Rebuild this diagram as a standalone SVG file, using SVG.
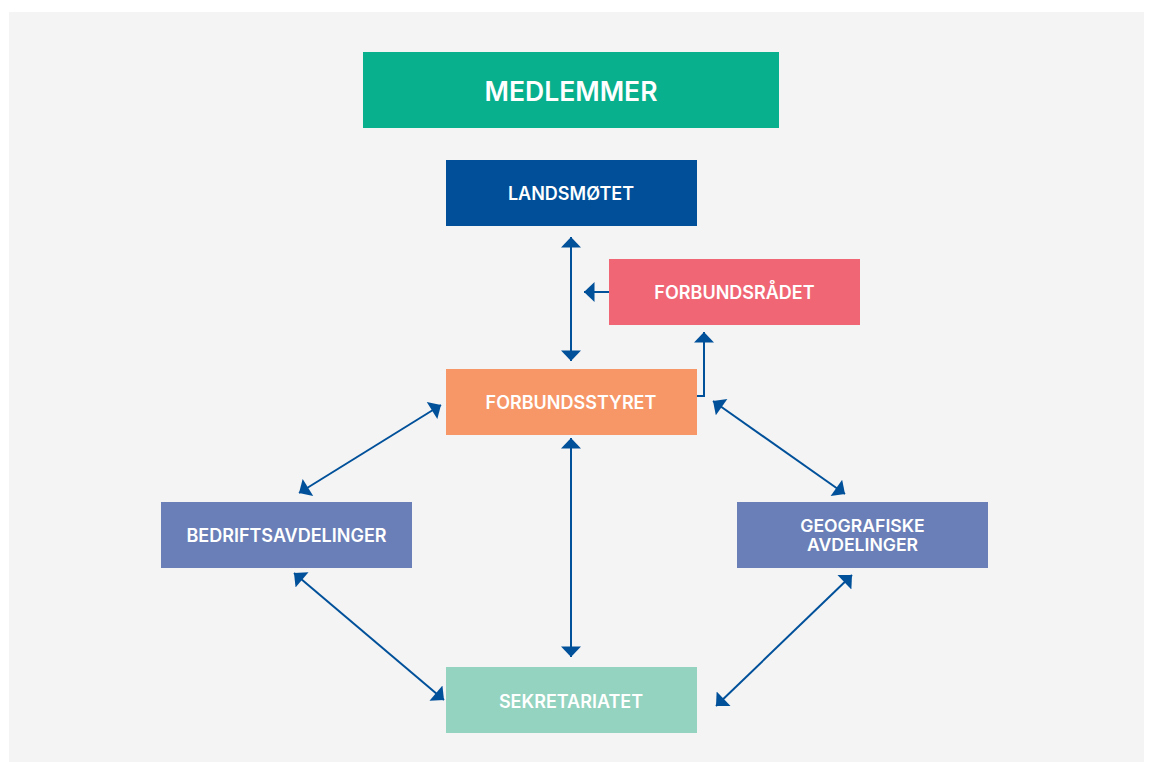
<svg xmlns="http://www.w3.org/2000/svg" width="1149" height="762" viewBox="0 0 1149 762">
<defs>
<marker id="ah" markerUnits="userSpaceOnUse" markerWidth="12" markerHeight="20" viewBox="0 0 10 19" refX="10" refY="9.5" orient="auto-start-reverse">
<path d="M0,0 L10,9.5 L0,19 z" fill="#00509a"/>
</marker>
<style>
.bg{fill:#ffffff}
.panel{fill:#f4f4f4}
.lbl{font-family:Inter,Roboto,"Liberation Sans",sans-serif;font-weight:600;fill:#ffffff;text-anchor:middle;font-size:18px}
.big{font-size:26.5px;font-weight:600}
.sm{font-size:17.6px}
.con{stroke:#00509a;stroke-width:2;fill:none}
.arr{marker-start:url(#ah);marker-end:url(#ah)}
.one{marker-end:url(#ah)}
</style>
</defs>
<rect class="bg" x="0" y="0" width="1149" height="762"/>
<rect class="panel" x="9" y="12" width="1135" height="750"/>
<g id="connectors">
<line class="con arr" x1="571" y1="237" x2="571" y2="361"/>
<line class="con one" x1="609" y1="292" x2="584" y2="292"/>
<polyline class="con one" points="697,396 704,396 704,332"/>
<line class="con arr" x1="713" y1="401" x2="845" y2="494"/>
<line class="con arr" x1="441" y1="405" x2="299" y2="493"/>
<line class="con arr" x1="294" y1="573" x2="444" y2="700"/>
<line class="con arr" x1="852" y1="575" x2="716" y2="706"/>
<line class="con arr" x1="571" y1="438" x2="571" y2="657"/>
</g>
<g id="medlemmer">
<rect x="363" y="52" width="416" height="76" fill="#08b08e"/>
<text class="lbl big" x="571" y="101">MEDLEMMER</text>
</g>
<g id="landsmotet">
<rect x="446" y="160" width="251" height="66" fill="#004f98"/>
<text class="lbl" x="571" y="200">LANDSMØTET</text>
</g>
<g id="forbundsradet">
<rect x="609" y="259" width="251" height="66" fill="#f06675"/>
<text class="lbl" x="734.500" y="299">FORBUNDSRÅDET</text>
</g>
<g id="forbundsstyret">
<rect x="446" y="369" width="251" height="66" fill="#f79667"/>
<text class="lbl" x="571" y="409">FORBUNDSSTYRET</text>
</g>
<g id="bedriftsavdelinger">
<rect x="161" y="502" width="251" height="66" fill="#6a7fb8"/>
<text class="lbl" x="286.500" y="542">BEDRIFTSAVDELINGER</text>
</g>
<g id="geografiske">
<rect x="737" y="502" width="251" height="66" fill="#6a7fb8"/>
<text class="lbl sm" x="862.500" y="532">GEOGRAFISKE</text>
<text class="lbl sm" x="862.500" y="551">AVDELINGER</text>
</g>
<g id="sekretariatet">
<rect x="446" y="667" width="251" height="66" fill="#93d3c0"/>
<text class="lbl" x="571" y="708">SEKRETARIATET</text>
</g>
</svg>
